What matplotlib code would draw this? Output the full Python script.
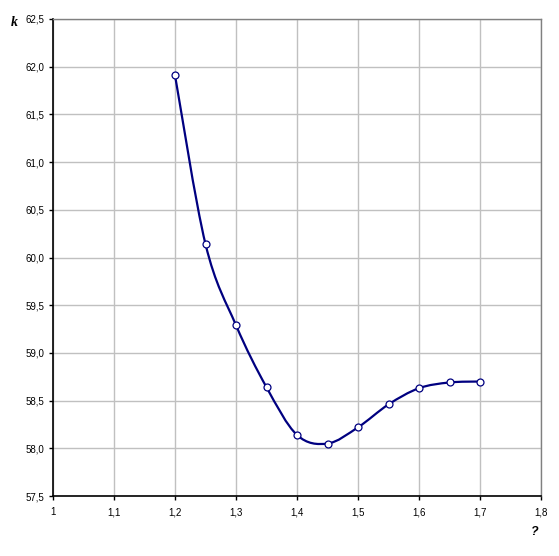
import numpy as np
import matplotlib
matplotlib.use('Agg')
import matplotlib.pyplot as plt
from matplotlib.path import Path
from matplotlib.patches import PathPatch
from matplotlib.ticker import FuncFormatter

# values
x_vals = [1.2, 1.25, 1.3, 1.35, 1.4, 1.45, 1.5, 1.55, 1.6, 1.65, 1.7]
k_vals = [61.91, 60.14, 59.29, 58.64, 58.14, 58.05, 58.22, 58.46, 58.63, 58.69, 58.70]
x_ticks = [1.0, 1.1, 1.2, 1.3, 1.4, 1.5, 1.6, 1.7, 1.8]
y_ticks = [57.5, 58.0, 58.5, 59.0, 59.5, 60.0, 60.5, 61.0, 61.5, 62.0, 62.5]

plt.rcParams['font.family'] = ['Liberation Sans', 'DejaVu Sans']

fig = plt.figure(figsize=(5.59, 5.56), dpi=100)
ax = fig.add_axes([53 / 559, 1 - 496 / 556, (541 - 53) / 559, (496 - 19) / 556])


def smooth_path(xs, ys, tension=1 / 6):
    # Catmull-Rom style bezier through the points (like Excel's smoothed line)
    pts = np.column_stack([xs, ys])
    verts = [pts[0]]
    codes = [Path.MOVETO]
    n = len(pts)
    for i in range(n - 1):
        p0 = pts[i - 1] if i > 0 else pts[i]
        p1 = pts[i]
        p2 = pts[i + 1]
        p3 = pts[i + 2] if i + 2 < n else pts[i + 1]
        c1 = p1 + (p2 - p0) * tension
        c2 = p2 - (p3 - p1) * tension
        verts += [c1, c2, p2]
        codes += [Path.CURVE4] * 3
    return Path(verts, codes)


ax.add_patch(PathPatch(smooth_path(x_vals, k_vals), facecolor='none',
                       edgecolor='#000080', lw=1.6, zorder=3))
ax.plot(x_vals, k_vals, linestyle='none', marker='o', markersize=5,
        markerfacecolor='white', markeredgecolor='#000080', markeredgewidth=0.9, zorder=4)

ax.set_xlim(1.0, 1.8)
ax.set_ylim(57.5, 62.5)
ax.set_xticks(x_ticks)
ax.set_yticks(y_ticks)
ax.xaxis.set_major_formatter(FuncFormatter(lambda v, p: '1' if abs(v - 1) < 1e-9 else f'{v:.1f}'.replace('.', ',')))
ax.yaxis.set_major_formatter(FuncFormatter(lambda v, p: f'{v:.1f}'.replace('.', ',')))
ax.tick_params(labelsize=7, length=3, width=1, direction='out')
ax.tick_params(axis='x', pad=5)
ax.tick_params(axis='y', pad=3)
ax.grid(True, color='#c0c0c0', lw=1)
ax.set_axisbelow(True)

for s in ['left', 'bottom']:
    ax.spines[s].set_color('black')
    ax.spines[s].set_linewidth(1.2)
for s in ['top', 'right']:
    ax.spines[s].set_color('#808080')
    ax.spines[s].set_linewidth(1)

fig.text(14 / 559, 1 - 23 / 556, 'k', fontsize=10, fontweight='bold', style='italic',
         family=['Liberation Serif', 'DejaVu Serif'], ha='center', va='center')
fig.text(535 / 559, 1 - 532 / 556, '?', fontsize=9, fontweight='bold', style='italic',
         ha='center', va='center')

fig.savefig('out.png', dpi=100)
